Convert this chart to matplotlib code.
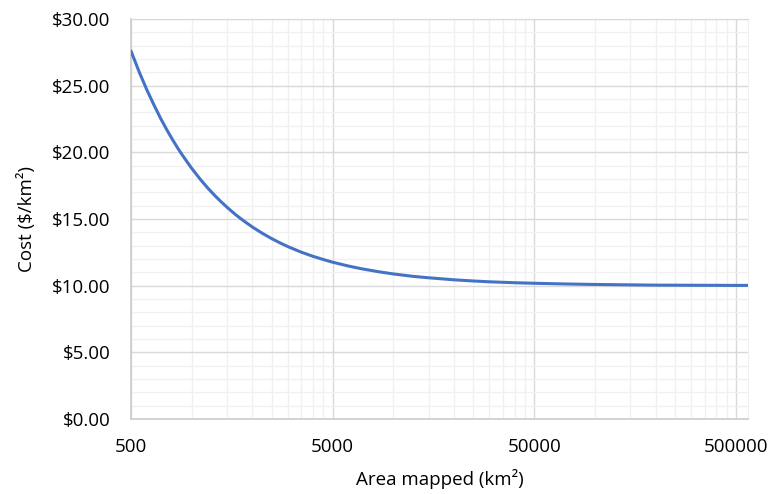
import numpy as np
import matplotlib.pyplot as plt
from matplotlib.ticker import FixedLocator, FuncFormatter, MultipleLocator, NullFormatter

# area mapped (km^2) and unit cost ($/km^2)
area_km2 = [500, 550, 600, 650, 700, 750, 800, 850, 900, 1000, 1100, 1200, 1300,
            1400, 1500, 1650, 1800, 2000, 2250, 2500, 2750, 3000, 3500, 4000,
            4500, 5000, 6000, 7000, 8500, 10000, 12500, 15000, 20000, 25000,
            30000, 40000, 50000, 70000, 100000, 150000, 200000, 300000, 500000,
            577000]
cost_per_km2 = [27.6, 26.0, 24.67, 23.55, 22.57, 21.73, 21.0, 20.35, 19.78, 18.8, 18.0, 17.33, 16.77,
                16.29, 15.87, 15.33, 14.89, 14.4, 13.91, 13.52, 13.2, 12.93, 12.51, 12.2,
                11.96, 11.76, 11.47, 11.26, 11.04, 10.88, 10.7, 10.59, 10.44, 10.35,
                10.29, 10.22, 10.18, 10.13, 10.09, 10.06, 10.04, 10.03, 10.02,
                10.02]

x_major = [500, 5000, 50000, 500000]
x_limits = (500, 577000)
y_limits = (0, 30)

plt.rcParams['font.family'] = ['Open Sans', 'DejaVu Sans']

fig = plt.figure(figsize=(7.71, 4.94), dpi=100)
ax = fig.add_axes([131 / 771, 75 / 494, (748.3 - 131) / 771, 400 / 494])

ax.plot(area_km2, cost_per_km2, color='#4472C4', lw=2.2,
        solid_capstyle='round', solid_joinstyle='round', zorder=3)

ax.set_xscale('log')
ax.set_xlim(*x_limits)
ax.set_ylim(*y_limits)

ax.xaxis.set_major_locator(FixedLocator(x_major))
minor = [m * k for m in [500, 5000, 50000] for k in range(2, 10)]
ax.xaxis.set_minor_locator(FixedLocator(minor))
ax.xaxis.set_major_formatter(FuncFormatter(lambda v, p: f'{int(round(v))}'))
ax.xaxis.set_minor_formatter(NullFormatter())

ax.yaxis.set_major_locator(MultipleLocator(5))
ax.yaxis.set_minor_locator(MultipleLocator(1))
ax.yaxis.set_major_formatter(FuncFormatter(lambda v, p: f'${v:.2f}'))

ax.grid(which='major', color='#d9d9d9', lw=1.0, zorder=1)
ax.grid(which='minor', color='#f0f0f0', lw=1.0, zorder=0)
ax.set_axisbelow(True)

ax.tick_params(which='both', length=0, labelsize=13.5, colors='#000000')
ax.tick_params(axis='y', pad=15)
ax.tick_params(axis='x', pad=14)

for side in ['left', 'bottom']:
    ax.spines[side].set_color('#cccccc')
    ax.spines[side].set_linewidth(1.2)
ax.spines['top'].set_color('#d9d9d9')
ax.spines['right'].set_color('#f0f0f0')

ax.set_xlabel('Area mapped (km²)', fontsize=13.5)
ax.set_ylabel('Cost ($/km²)', fontsize=13.5)
ax.xaxis.set_label_coords(0.5, -0.125)
ax.yaxis.set_label_coords(-0.154, 0.5)

plt.savefig('out.png', dpi=100)
